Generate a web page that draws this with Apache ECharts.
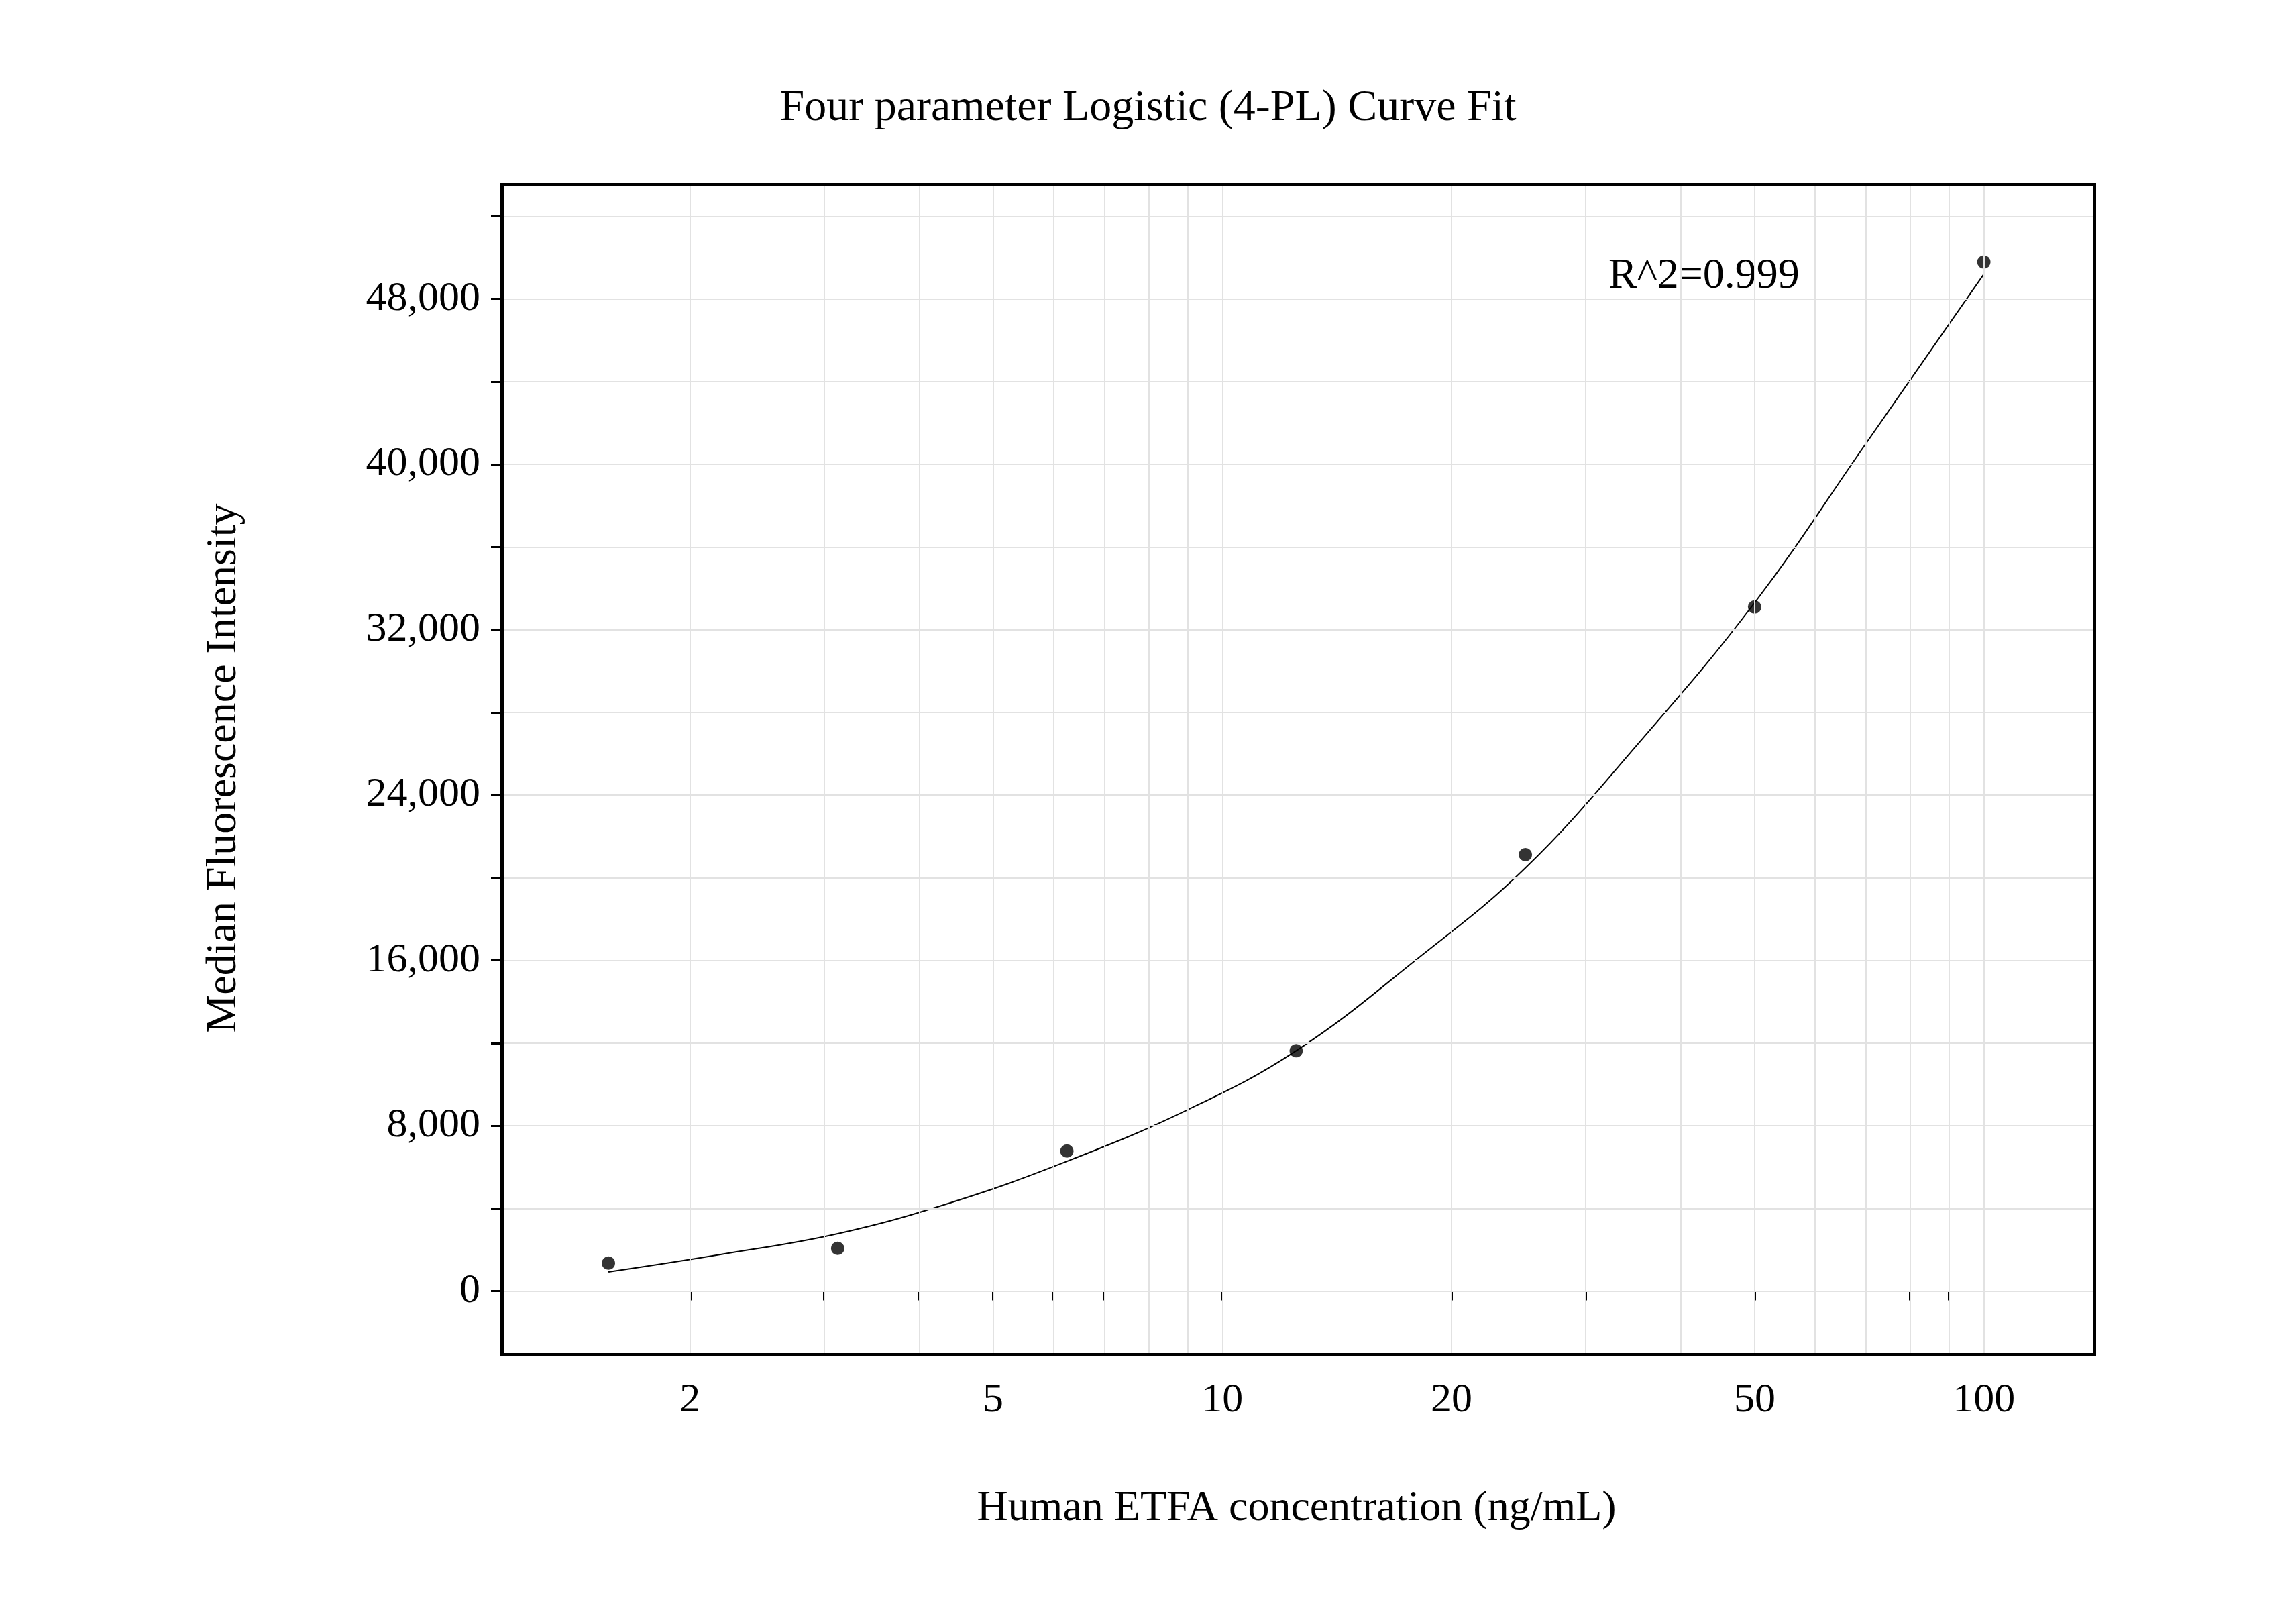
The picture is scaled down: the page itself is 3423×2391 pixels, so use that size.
<!DOCTYPE html>
<html><head><meta charset="utf-8">
<script src="https://cdn.jsdelivr.net/npm/echarts@6/dist/echarts.min.js"></script>
<style>html,body{margin:0;background:#fff}#c{width:3423px;height:2391px}</style>
</head><body><div id="c"></div>
<script>
// measured standards
var conc = [1.5625, 3.125, 6.25, 12.5, 25, 50, 100];
var mfi = [1355, 2068, 6776, 11626, 21112, 33094, 49783];
// fitted curve
var curveX = [1.5625, 2.2, 3.125, 4.4, 6.25, 9, 12.5, 18, 25, 35, 50, 70, 100];
var curveY = [927, 1780, 2780, 4280, 6276, 8770, 11626, 16050, 20470, 26400, 33300, 41000, 49200];
var xLabels = [2, 5, 10, 20, 50, 100];
var xMinor = [2, 3, 4, 5, 6, 7, 8, 9, 10, 20, 30, 40, 50, 60, 70, 80, 90, 100];
var yLabels = [0, 8000, 16000, 24000, 32000, 40000, 48000];
var yMinor = [0, 4000, 8000, 12000, 16000, 20000, 24000, 28000, 32000, 36000, 40000, 44000, 48000, 52000];

var font = 'Liberation Serif';
var myChart = echarts.init(document.getElementById('c'));
var grey = {color: '#e2e2e2', width: 2, type: 'solid'};
var option = {
    backgroundColor: '#fff',
    title: {
        text: 'Four parameter Logistic (4-PL) Curve Fit', left: 'center', top: 124,
        textStyle: {fontFamily: font, fontSize: 66, fontWeight: 'normal', color: '#000'}
    },
    grid: {left: 746, right: 303, top: 273, bottom: 374, show: false},
    xAxis: {
        type: 'log', min: 1.127, max: 139,
        name: 'Human ETFA concentration (ng/mL)', nameLocation: 'middle', nameGap: 200,
        nameTextStyle: {fontFamily: font, fontSize: 64, color: '#000'},
        axisLine: {show: false},
        axisTick: {show: true, inside: false, length: 14, lineStyle: {color: '#000', width: 3}, customValues: xMinor},
        axisLabel: {fontFamily: font, fontSize: 62, color: '#000', margin: 40, customValues: xLabels},
        splitLine: {show: false}, minorTick: {show: false}
    },
    yAxis: {
        type: 'value', min: -3000, max: 53600,
        name: 'Median Fluorescence Intensity', nameLocation: 'middle', nameGap: 380,
        nameTextStyle: {fontFamily: font, fontSize: 64, color: '#000'},
        axisLine: {show: false},
        axisTick: {show: true, inside: false, length: 14, lineStyle: {color: '#000', width: 3}, customValues: yMinor},
        axisLabel: {fontFamily: font, fontSize: 62, color: '#000', margin: 30, customValues: yLabels},
        splitLine: {show: false}, minorTick: {show: false}
    },
    series: [
        {
            type: 'line', smooth: 0.4, symbol: 'none', data: curveX.map(function (x, i) { return [x, curveY[i]]; }),
            lineStyle: {color: '#000', width: 2},
            markLine: {
                silent: true, symbol: 'none', label: {show: false}, lineStyle: grey,
                data: xMinor.map(function (v) { return {xAxis: v}; })
                    .concat(yMinor.map(function (v) { return {yAxis: v}; }))
            },
            z: 3
        },
        {
            type: 'scatter', symbolSize: 20, itemStyle: {color: '#000'},
            data: conc.map(function (x, i) { return [x, mfi[i]]; }), z: 4
        }
    ],
    graphic: [
        {type: 'rect', left: 746, top: 273, z: 10, silent: true,
         shape: {width: 3423 - 746 - 303, height: 2391 - 273 - 374},
         style: {fill: 'none', stroke: '#000', lineWidth: 5}},
        {type: 'text', left: 2398, top: 380,
         style: {text: 'R^2=0.999', fontFamily: font, fontSize: 64, fill: '#000'}}
    ]
};
myChart.setOption(option);
</script></body></html>
